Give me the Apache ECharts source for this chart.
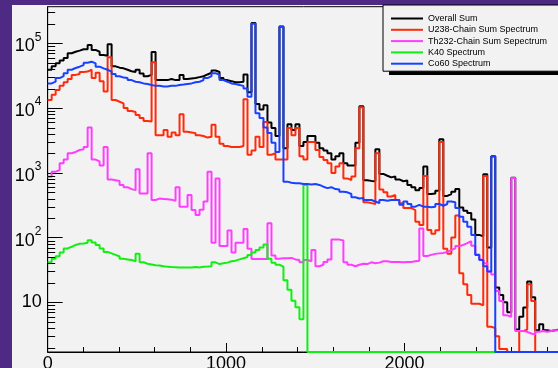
<!DOCTYPE html>
<html>
<head>
<meta charset="utf-8">
<script src="https://cdn.jsdelivr.net/npm/echarts@6/dist/echarts.min.js"></script>
<style>
html,body{margin:0;padding:0;background:#4f2a85;}
#c{width:558px;height:368px;}
</style>
</head>
<body>
<div id="c"></div>
<script>
// ---- data (bin contents, 22.4 keV bins starting at 0) ----
const binWidth = 22.4;
const seriesNames = ['Overall Sum', 'U238-Chain Sum Spectrum', 'Th232-Chain Sum Sepectrum', 'K40 Spectrum', 'Co60 Spectrum'];
const xTickLabels = [0, 1000, 2000];

const overallSum = [
 39000, 44000, 49000, 54000, 59000, 70000, 74000, 77000, 81000, 81000,
 94000, 79000, 74000, 66000, 64000, 97000, 44000, 42000, 41000, 39000,
 37000, 36000, 39000, 34000, 31000, 32500, 73000, 27000, 27000, 27000,
 28000, 27000, 27000, 32500, 28000, 28500, 29000, 30000, 31000, 33000,
 35000, 38000, 36000, 29000, 27000, 26000, 25000, 25000, 25500, 33000,
 17500, 205000, 11500, 9500, 11000, 6000, 4900, 3700, 182000, 2400,
 5600, 4600, 5600, 2600, 3000, 3700, 3700, 2900, 2400, 2200,
 2000, 1600, 1800, 2000, 1400, 1300, 1300, 2900, 10700, 770,
 750, 740, 2300, 960, 900, 850, 880, 790, 740, 760,
 650, 600, 540, 580, 1250, 470, 480, 530, 3300, 440,
 470, 510, 560, 290, 260, 240, 190, 110, 105, 950,
 70, 1800, 17, 13, 10, 7, 835, 3.8, 6, 8.3,
 21, 12, 3.7, 4.6, 3.7, 3.6, 3.7, 3.8
];
const u238Chain = [
 13300, 16000, 19000, 22000, 25000, 28000, 32500, 33500, 36000, 36500,
 39000, 29000, 35000, 26000, 18000, 61000, 13300, 12500, 11800, 10000,
 9000, 8700, 7800, 7000, 6300, 6200, 51000, 3800, 3800, 4600,
 3600, 4200, 3800, 8000, 4300, 4200, 4100, 3800, 3700, 3500,
 3600, 5500, 3600, 2800, 2600, 2500, 2500, 2500, 2600, 13700,
 1900, 2200, 3600, 2500, 6100, 1900, 2000, 1600, 1600, 1600,
 4900, 3800, 4900, 1800, 1600, 3000, 3000, 2250, 1750, 1580,
 1400, 990, 1250, 1400, 820, 770, 880, 2400, 10300, 350,
 340, 330, 2000, 550, 500, 430, 455, 380, 340, 285,
 285, 266, 176, 156, 890, 131, 115, 130, 3000, 67,
 56, 100, 220, 28, 19, 13, 9.5, 9.5, 9, 890,
 4.2, 4.0, 3.0, 1.9, 1.9, 0, 0, 0, 3.6, 3.8,
 19, 10.5, 0, 0, 0, 0, 0, 0
];
const th232Chain = [
 870, 1040, 1100, 1400, 1600, 2000, 2100, 2250, 2300, 2500,
 5000, 1600, 1500, 1300, 2500, 790, 770, 750, 650, 600,
 560, 540, 1130, 480, 480, 2000, 380, 400, 395, 390,
 385, 370, 600, 300, 300, 455, 266, 223, 270, 360,
 1040, 83, 820, 74, 74, 128, 59, 83, 83, 136,
 67, 46.5, 46.5, 46.5, 46.5, 166, 53, 47, 48, 48,
 48.5, 46, 45, 41.5, 45, 43, 64, 36, 38, 42,
 46, 93, 93, 90, 41.5, 38, 36, 38, 39.5, 39,
 41.5, 40, 41, 43, 43, 42, 42, 42, 41.5, 42,
 42, 43, 44, 138, 52, 54, 56, 57, 58, 60,
 64, 68, 74, 77, 82, 88, 75, 55, 46, 40,
 30, 27, 15, 10.5, 6.3, 6.0, 830, 3.6, 3.6, 3.5,
 3.3, 3.2, 3.5, 3.6, 3.5, 3.6, 3.7, 3.7
];
const k40 = [
 41.5, 47, 51.5, 59, 68, 72, 77, 80, 81, 83,
 91, 84, 77, 68, 60, 57, 54, 51, 47, 46,
 45, 43, 56, 41.5, 39.5, 38.5, 37.5, 37, 36, 35.5,
 35, 34.8, 34.6, 34.6, 34.6, 34.6, 35, 34.6, 35.5, 35.6,
 36, 41.5, 39, 40, 41, 43, 44, 46, 48, 50,
 54, 59, 64, 70, 78, 47, 41, 38, 35.6, 22,
 15.6, 10.6, 8.4, 5.5, 650, 0, 0, 0, 0, 0,
 0, 0, 0, 0, 0, 0, 0, 0, 0, 0,
 0, 0, 0, 0, 0, 0, 0, 0, 0, 0,
 0, 0, 0, 0, 0, 0, 0, 0, 0, 0,
 0, 0, 0, 0, 0, 0, 0, 0, 0, 0,
 0, 0, 0, 0, 0, 0, 0, 0, 0, 0,
 0, 0, 0, 0, 0, 0, 0, 0
];
const co60 = [
 24000, 25500, 29000, 31000, 34500, 39000, 41500, 43500, 46000, 50000,
 52000, 49000, 43500, 41000, 39000, 36500, 33500, 31000, 29500, 29000,
 27000, 25500, 25000, 24000, 23500, 22700, 22000, 22000, 21500, 21500,
 22000, 22000, 22700, 23000, 23500, 24000, 25000, 25500, 27000, 29000,
 31000, 34500, 32500, 27000, 25500, 24000, 23500, 22700, 22000, 20000,
 15000, 200000, 8300, 7000, 5000, 4100, 2900, 2100, 180000, 730,
 700, 690, 690, 670, 670, 660, 670, 650, 610, 580,
 600, 560, 550, 510, 500, 470, 420, 400, 410, 380,
 380, 360, 340, 380, 370, 380, 380, 380, 320, 360,
 330, 300, 320, 300, 300, 295, 300, 330, 310, 330,
 360, 350, 285, 210, 176, 147, 110, 54, 45, 36,
 30, 1780, 0, 0, 0, 0, 0, 0, 0, 0,
 0, 0, 0, 0, 0, 0, 0, 0
];
const seriesColors = ['#000000', '#ff2a0a', '#ff3cff', '#10f010', '#1a40ff'];
const seriesValues = [overallSum, u238Chain, th232Chain, k40, co60];

// ---- axis ranges ----
const yMin = 1.71, yMax = 3.67e5;
const xMax = overallSum.length * binWidth;
const yMinorTicks = [];
for (let e = 0; e <= 5; e++) {
  for (let m = 2; m <= 9; m++) {
    const v = m * Math.pow(10, e);
    if (v > yMin && v < yMax) yMinorTicks.push(v);
  }
}

const FONT = 'Liberation Sans, Arial, Helvetica, sans-serif';

function steps(vals) {
  // empty bins are drawn on the frame bottom, as ROOT does on a log scale
  const pts = vals.map((v, i) => [i * binWidth, v > 0 ? v : yMin]);
  const last = vals[vals.length - 1];
  pts.push([vals.length * binWidth, last > 0 ? last : yMin]);
  return pts;
}

const chart = echarts.init(document.getElementById('c'), null, {renderer: 'canvas'});

const lineSeries = seriesNames.map((name, k) => ({
  type: 'line',
  name: name,
  data: steps(seriesValues[k]),
  step: 'end',
  symbol: 'none',
  color: seriesColors[k],
  lineStyle: {width: 2, color: seriesColors[k]},
  clip: true,
  z: 2
}));

const option = {
  animation: false,
  backgroundColor: '#4f2a85',
  graphic: [{
    type: 'rect', z: -100, silent: true,
    shape: {x: 12, y: 5, width: 546, height: 363},
    style: {fill: '#f2f2f2'}
  }, {
    type: 'rect', z: 50, silent: true,
    shape: {x: 389, y: 9, width: 250, height: 66},
    style: {fill: '#000'}
  }],
  grid: {
    left: 47.67, right: -1.2, top: 6.7, bottom: 16,
    outerBoundsMode: 'none',
    containLabel: false,
    show: true, borderColor: '#000', borderWidth: 1, backgroundColor: 'transparent'
  },
  legend: {
    data: seriesNames,
    orient: 'vertical',
    left: 383, top: 5,
    z: 60,
    padding: [8, 24, 2, 8],
    itemWidth: 32, itemHeight: 2, itemGap: 0.3,
    icon: 'rect',
    selectedMode: false,
    backgroundColor: '#f2f2f2',
    borderColor: '#000', borderWidth: 1, borderRadius: 0,
    textStyle: {fontSize: 9, lineHeight: 11, fontFamily: FONT, color: '#000'}
  },
  xAxis: {
    type: 'value', min: 0, max: xMax, interval: 1000,
    axisLine: {show: true, lineStyle: {color: '#000', width: 1}},
    axisTick: {show: true, inside: true, length: 9, lineStyle: {color: '#000', width: 1}},
    minorTick: {show: true, splitNumber: 5, length: 5, lineStyle: {color: '#000', width: 1}},
    splitLine: {show: false},
    minorSplitLine: {show: false},
    axisLabel: {
      margin: 3, fontSize: 18, fontFamily: FONT, color: '#000',
      showMaxLabel: false,
      formatter: function (v) { return xTickLabels.indexOf(Math.round(v)) >= 0 && Math.abs(v - Math.round(v)) < 1e-6 ? String(Math.round(v)) : ''; }
    }
  },
  yAxis: {
    type: 'log', logBase: 10, min: yMin, max: yMax,
    axisLine: {show: true, lineStyle: {color: '#000', width: 1}},
    axisTick: {show: true, inside: true, length: 15, lineStyle: {color: '#000', width: 1}},
    splitLine: {show: false},
    axisLabel: {
      margin: 6, fontSize: 18, fontFamily: FONT, color: '#000',
      showMinLabel: false, showMaxLabel: false,
      formatter: function (v) {
        const l = Math.log10(v);
        const n = Math.round(l);
        if (Math.abs(l - n) > 1e-4) return '';
        if (n === 1) return '{b|10}';
        return '{m|10}{s|' + n + '}{z| }';
      },
      rich: {
        b: {fontSize: 18, fontFamily: FONT, color: '#000'},
        m: {fontSize: 18, lineHeight: 18, fontFamily: FONT, color: '#000', verticalAlign: 'bottom'},
        s: {fontSize: 12, lineHeight: 19, fontFamily: FONT, color: '#000', verticalAlign: 'top'},
        z: {fontSize: 1, lineHeight: 24, fontFamily: FONT, color: 'rgba(0,0,0,0)'}
      }
    }
  },
  series: lineSeries.concat([{
    type: 'custom',
    name: 'yMinorTicks',
    silent: true,
    z: 5,
    clip: false,
    data: yMinorTicks.map(v => [0, v]),
    renderItem: function (params, api) {
      const p = api.coord([api.value(0), api.value(1)]);
      const y = Math.round(p[1]) + 0.5;
      return {
        type: 'line',
        shape: {x1: p[0], y1: y, x2: p[0] + 7.5, y2: y},
        style: {stroke: '#000', lineWidth: 1}
      };
    }
  }])
};

chart.setOption(option);
</script>
</body>
</html>
